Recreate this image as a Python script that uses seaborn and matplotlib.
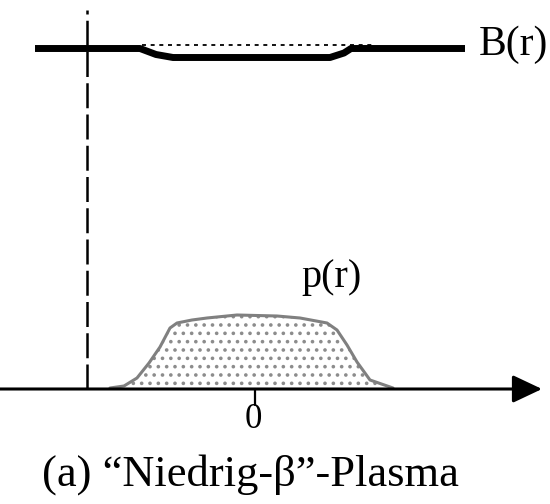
import matplotlib
matplotlib.use("Agg")
import matplotlib.pyplot as plt
import seaborn as sns
import pandas as pd

# Radial coordinate r (centre of the plasma at r = 0) and the two profiles.
# Both profiles share one vertical scale: p sits on the r-axis, B is drawn above it.
r_B = [-2.19, -1.14, -0.98, -0.81, 0.76, 0.90, 0.97, 2.11]
B_vals = [3.405, 3.405, 3.345, 3.315, 3.315, 3.36, 3.405, 3.405]

# undisturbed (vacuum) field level over the plasma region
r_B0 = [-1.12, 1.18]
B0_vals = [3.44, 3.44]

r_p = [-1.44, -1.30, -1.17, -1.05, -0.94, -0.84, -0.77, -0.62, -0.47, -0.17,
       0.23, 0.46, 0.73, 0.83, 0.93, 1.03, 1.16, 1.39]
p_vals = [0.01, 0.03, 0.11, 0.26, 0.42, 0.61, 0.66, 0.69, 0.71, 0.74,
          0.73, 0.71, 0.66, 0.59, 0.44, 0.27, 0.09, 0.01]

wall_r = -1.67          # position of the wall / plasma boundary marker
tick_labels = ["0"]
tick_pos = [0.01]

df_B = pd.DataFrame({"r": r_B, "B": B_vals})
df_B0 = pd.DataFrame({"r": r_B0, "B": B0_vals})
df_p = pd.DataFrame({"r": r_p, "p": p_vals})

sns.set_style("white")
plt.rcParams["font.family"] = ["Liberation Serif", "DejaVu Serif"]
plt.rcParams["text.color"] = "black"
plt.rcParams["hatch.linewidth"] = 1.4

fig = plt.figure(figsize=(5.5, 5.04), dpi=100)
ax = fig.add_axes([0, 0, 1, 1])
ax.set_xlim(-2.54, 2.96)
ax.set_ylim(-1.15, 3.89)
ax.set_axis_off()

# dotted pressure area
ax.fill_between(df_p["r"], df_p["p"], 0, facecolor="none", edgecolor="#8c8c8c",
                hatch="..", linewidth=0, zorder=1)
sns.lineplot(data=df_p, x="r", y="p", sort=False, estimator=None,
             color="#808080", linewidth=2.2, ax=ax, zorder=3)

# magnetic field profile and its undisturbed level
sns.lineplot(data=df_B0, x="r", y="B", sort=False, estimator=None,
             color="black", linewidth=1.3, dashes=False, ax=ax, zorder=2)
ax.lines[-1].set_dashes((2.2, 2.6))
sns.lineplot(data=df_B, x="r", y="B", sort=False, estimator=None,
             color="black", linewidth=5.0, ax=ax, zorder=3)
ax.lines[-1].set_solid_capstyle("butt")

# dashed vertical marker
ax.plot([wall_r, wall_r], [0, 3.79], color="black", linewidth=1.8,
        dashes=(10, 2.5), zorder=2)

# r-axis with arrow head
ax.annotate("", xy=(2.88, 0), xytext=(-2.54, 0),
            arrowprops=dict(arrowstyle="-|>,head_length=18,head_width=8.5",
                            mutation_scale=1, color="black", lw=2.2,
                            shrinkA=0, shrinkB=0), zorder=4)

# tick and its label
for pos, lab in zip(tick_pos, tick_labels):
    ax.plot([pos, pos], [0, -0.16], color="black", linewidth=1.6, zorder=4)
    ax.text(pos - 0.02, -0.31, lab, fontsize=25, ha="center", va="center")

ax.text(2.25, 3.44, "B(r)", fontsize=30, ha="left", va="center")
ax.text(0.77, 1.11, "p(r)", fontsize=29, ha="center", va="center")
ax.text(-0.04, -0.86, "(a) \u201cNiedrig-\u03b2\u201d-Plasma", fontsize=32,
        ha="center", va="center")

fig.savefig("out.png", dpi=100, facecolor="white")
